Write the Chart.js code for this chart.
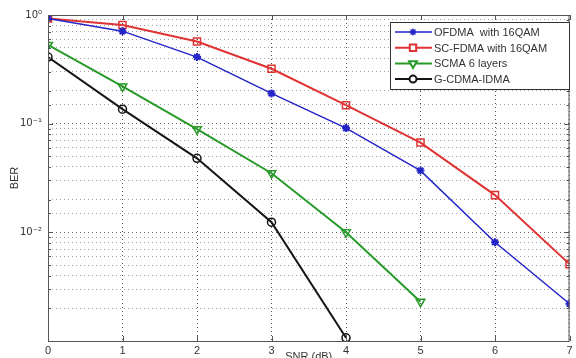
<!DOCTYPE html>
<html>
<head>
<meta charset="utf-8">
<script src="https://cdn.jsdelivr.net/npm/chart.js@4.4.0/dist/chart.umd.min.js"></script>
<style>
  html, body { margin: 0; padding: 0; background: #fff; overflow: hidden; }
</style>
</head>
<body>
<canvas id="berChart" width="576" height="364"></canvas>
<script>
const snr = [0, 1, 2, 3, 4, 5, 6, 7];
const ofdma = [0.93, 0.71, 0.41, 0.19, 0.091, 0.037, 0.0081, 0.0022];
const scfdma = [0.93, 0.81, 0.57, 0.32, 0.148, 0.067, 0.022, 0.0051];
const scma = [0.53, 0.22, 0.089, 0.035, 0.010, 0.0023];
const gcdma = [0.41, 0.136, 0.048, 0.0124, 0.00107];
const seriesNames = ['OFDMA  with 16QAM', 'SC-FDMA with 16QAM', 'SCMA 6 layers', 'G-CDMA-IDMA'];
const yLabels = { '1': '10\u2070', '0.1': '10\u207B\u00B9', '0.01': '10\u207B\u00B2' };

const toPoints = (vals) => vals.map((v, i) => ({ x: snr[i], y: v }));

const datasets = [
    { label: seriesNames[0], data: toPoints(ofdma), borderColor: '#2525c8', backgroundColor: '#2525c8',
      borderWidth: 1.5, pointStyle: 'star', pointRadius: 4, pointBorderWidth: 2, pointBackgroundColor: '#2525c8' },
    { label: seriesNames[1], data: toPoints(scfdma), borderColor: '#e03333', backgroundColor: 'rgba(0,0,0,0)',
      borderWidth: 2, pointStyle: 'rect', pointRadius: 5, pointBorderWidth: 1.5 },
    { label: seriesNames[2], data: toPoints(scma), borderColor: '#279a2a', backgroundColor: 'rgba(0,0,0,0)',
      borderWidth: 2, pointStyle: 'triangle', pointRotation: 180, pointRadius: 5, pointBorderWidth: 1.5 },
    { label: seriesNames[3], data: toPoints(gcdma), borderColor: '#151515', backgroundColor: 'rgba(0,0,0,0)',
      borderWidth: 2, pointStyle: 'circle', pointRadius: 4, pointBorderWidth: 1.5 }
];

const isDecade = (v) => Math.abs(Math.log10(v) - Math.round(Math.log10(v))) < 1e-6;

// box round the plot, inward ticks and the legend inside the axes
const matlabBox = {
    id: 'matlabBox',
    afterDraw(chart) {
        const { ctx, chartArea: a, scales } = chart;
        ctx.save();
        ctx.strokeStyle = '#555';
        ctx.lineWidth = 1;
        ctx.strokeRect(a.left + 0.5, a.top + 0.5, a.right - a.left - 1, a.bottom - a.top);
        ctx.beginPath();
        snr.forEach(v => {
            const px = Math.round(scales.x.getPixelForValue(v)) + 0.5;
            ctx.moveTo(px, a.bottom); ctx.lineTo(px, a.bottom - 5);
            ctx.moveTo(px, a.top); ctx.lineTo(px, a.top + 5);
        });
        scales.y.ticks.forEach(t => {
            const py = Math.round(scales.y.getPixelForValue(t.value)) + 0.5;
            const len = isDecade(t.value) ? 5 : 3;
            ctx.moveTo(a.left, py); ctx.lineTo(a.left + len, py);
            ctx.moveTo(a.right, py); ctx.lineTo(a.right - len, py);
        });
        ctx.stroke();

        // legend
        const bx = 390, by = 22, bw = 179, bh = 67;
        ctx.fillStyle = '#fff';
        ctx.fillRect(bx, by, bw, bh);
        ctx.strokeStyle = '#333';
        ctx.strokeRect(bx + 0.5, by + 0.5, bw, bh);
        ctx.font = '11px "Liberation Sans", Arial, sans-serif';
        ctx.textBaseline = 'middle';
        chart.data.datasets.forEach((ds, i) => {
            const y = by + 10 + i * 15.7;
            ctx.strokeStyle = ds.borderColor;
            ctx.lineWidth = ds.borderWidth;
            ctx.beginPath();
            ctx.moveTo(bx + 5, y); ctx.lineTo(bx + 42, y);
            ctx.stroke();
            ctx.fillStyle = ds.pointBackgroundColor || '#fff';
            Chart.helpers.drawPoint(ctx, {
                pointStyle: ds.pointStyle, rotation: ds.pointRotation || 0,
                radius: ds.pointRadius - 0.5, borderWidth: ds.pointBorderWidth
            }, bx + 23, y);
            ctx.fillStyle = '#333';
            ctx.fillText(ds.label, bx + 44, y + 1);
        });
        ctx.restore();
    }
};

const config = {
    type: 'line',
    data: { datasets },
    options: {
        responsive: false,
        animation: false,
        layout: { padding: { right: 4, top: 15 } },
        plugins: { legend: { display: false }, tooltip: { enabled: false } },
        elements: { line: { tension: 0 } },
        scales: {
            x: {
                type: 'linear', min: 0, max: 7,
                ticks: { stepSize: 1, color: '#333', font: { family: 'Liberation Sans', size: 11 }, padding: 3 },
                grid: { color: '#555', lineWidth: 1, drawTicks: false },
                border: { display: false, dash: [1, 3] },
                title: { display: true, text: 'SNR (dB)', color: '#333', font: { family: 'Liberation Sans', size: 11 }, padding: 0 },
                afterFit: (s) => { s.height = 23; }
            },
            y: {
                type: 'logarithmic', min: 0.001, max: 1,
                ticks: {
                    autoSkip: false, color: '#333', font: { family: 'DejaVu Sans', size: 10 }, padding: 6,
                    callback: (v) => yLabels[String(v)] || ''
                },
                grid: {
                    drawTicks: false, lineWidth: 1,
                    color: (c) => (c.tick && isDecade(c.tick.value)) ? '#666' : '#a0a0a0'
                },
                border: { display: false, dash: [1, 3] },
                title: { display: true, text: 'BER', color: '#333', font: { family: 'Liberation Sans', size: 11 }, padding: { top: 8, bottom: 0 } },
                afterFit: (s) => { s.width = 48; }
            }
        }
    },
    plugins: [matlabBox]
};

const berChart = new Chart(document.getElementById('berChart'), config);
</script>
</body>
</html>
